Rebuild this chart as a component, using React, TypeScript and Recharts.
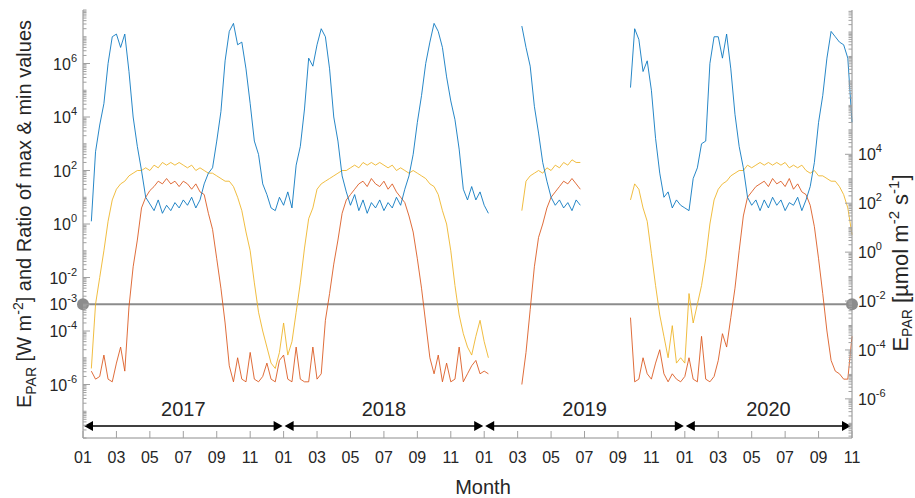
import { LineChart, Line, XAxis, YAxis, ReferenceLine, ReferenceDot } from 'recharts'

// samples every quarter month, starting 1 Jan 2017 (t = months since then)
const STEP = 0.25

// log10 values, one row of numbers per year
const ratioLog = [
  // 2017
  null, null, 0.1, 2.7, 3.7, 4.5, 6.0, 7.0, 7.1, 6.6, 7.1, 5.7, 4.0, 2.9, 2.0, 1.0, 0.75, 0.5, 0.9, 0.4, 0.7, 0.5, 0.8, 0.6,
  0.9, 0.7, 1.0, 0.6, 0.9, 1.5, 1.9, 2.1, 3.1, 4.2, 6.1, 7.2, 7.5, 6.7, 6.8, 5.8, 4.5, 3.1, 2.6, 1.5, 1.1, 0.6, 0.5, 1.0,
  // 2018
  0.7, 1.2, 0.6, 2.2, 2.9, 4.3, 6.2, 5.9, 6.7, 7.3, 7.0, 5.8, 4.0, 3.1, 1.8, 1.2, 0.7, 1.1, 0.5, 0.9, 0.4, 0.8, 0.6, 0.9,
  0.5, 0.8, 0.6, 1.0, 0.7, 1.3, 1.8, 2.6, 3.8, 4.8, 6.0, 6.8, 7.5, 7.2, 6.6, 5.5, 4.6, 3.9, 2.8, 1.3, 0.9, 1.4, 0.9, 1.2,
  // 2019
  0.7, 0.4, null, null, null, null, null, null, null, 7.4, 6.6, 5.9, 4.4, 3.4, 2.3, 1.6, 1.0, 0.7, 0.9, 0.6, 0.8, 0.5, 0.9, 0.7,
  null, null, null, null, null, null, null, null, null, null, null, 5.1, 7.3, 6.9, 5.7, 6.1, 5.0, 3.2, 1.9, 1.0, 1.2, 0.6, 0.9, 0.7,
  // 2020
  0.6, 0.5, 1.7, 2.1, 3.0, 3.1, 6.0, 7.0, 7.0, 6.2, 7.1, 5.8, 4.1, 2.9, 2.1, 1.0, 0.7, 0.9, 0.5, 0.9, 0.6, 1.0, 0.7, 0.9,
  0.5, 0.8, 0.7, 1.0, 0.5, 0.9, 1.4, 2.3, 3.8, 4.8, 6.2, 7.2, 7.0, 6.8, 6.7, 6.2, 3.8,
]

const maxLog = [
  // 2017
  null, null, -5.4, -3.0, -2.0, -1.0, 0.1, 0.9, 1.3, 1.5, 1.6, 1.8, 1.9, 2.0, 2.0, 2.1, 2.0, 2.2, 2.1, 2.3, 2.2, 2.3, 2.2, 2.3,
  2.2, 2.1, 2.2, 2.0, 2.1, 2.0, 1.9, 1.9, 1.8, 1.7, 1.6, 1.6, 1.4, 1.0, 0.5, -0.3, -1.0, -2.2, -3.3, -4.0, -4.6, -5.2, -5.4, -4.8,
  // 2018
  -3.7, -4.9, -4.4, -3.3, -2.2, -0.9, 0.2, 0.6, 1.3, 1.5, 1.6, 1.7, 1.8, 1.9, 2.0, 2.0, 2.1, 2.2, 2.1, 2.3, 2.2, 2.3, 2.2, 2.3,
  2.2, 2.1, 2.2, 2.0, 2.1, 2.0, 1.9, 2.0, 1.9, 1.8, 1.7, 1.5, 1.4, 1.1, 0.5, 0.0, -1.0, -2.3, -3.4, -4.1, -4.6, -4.9, -4.2, -3.6,
  // 2019
  -4.4, -5.0, null, null, null, null, null, null, null, 0.5, 1.6, 1.8, 1.9, 2.0, 1.9, 2.1, 2.0, 2.2, 2.1, 2.3, 2.2, 2.4, 2.3, 2.3,
  null, null, null, null, null, null, null, null, null, null, null, 0.9, 1.5, 1.3, 0.6, 0.1, -1.1, -2.3, -3.4, -4.2, -5.0, -3.8, -5.2, -5.0,
  // 2020
  -5.2, -2.6, -3.7, -3.0, -2.3, -1.3, 0.0, 0.9, 1.3, 1.5, 1.6, 1.8, 1.9, 2.0, 2.0, 2.2, 2.1, 2.2, 2.3, 2.2, 2.3, 2.2, 2.3, 2.2,
  2.3, 2.1, 2.2, 2.1, 2.2, 2.0, 1.9, 2.0, 1.8, 1.8, 1.7, 1.6, 1.6, 1.4, 1.1, 0.6, -0.4,
]

const minLog = [
  // 2017
  null, null, -5.5, -5.8, -5.7, -4.9, -5.8, -5.9, -5.2, -4.6, -5.5, -3.1, -1.6, -0.6, 0.6, 1.0, 1.25, 1.4, 1.6, 1.5, 1.7, 1.5, 1.6, 1.4,
  1.6, 1.5, 1.3, 1.5, 1.2, 1.1, 0.4, -0.2, -1.3, -2.4, -3.7, -5.3, -5.9, -5.0, -5.8, -5.9, -4.8, -5.8, -5.9, -5.7, -5.2, -5.8, -5.9, -5.1,
  // 2018
  -4.9, -5.8, -5.9, -4.6, -5.8, -5.9, -5.9, -4.6, -5.8, -5.6, -3.6, -2.6, -1.5, -0.6, 0.4, 0.9, 1.1, 1.3, 1.5, 1.6, 1.4, 1.7, 1.5, 1.4,
  1.6, 1.3, 1.5, 1.2, 1.0, 0.8, 0.3, -0.3, -1.3, -2.4, -3.7, -5.0, -5.6, -4.9, -5.9, -5.2, -5.9, -5.8, -4.6, -5.9, -5.6, -5.3, -5.1, -5.6,
  // 2019
  -5.5, -5.6, null, null, null, null, null, null, null, -6.0, -4.8, -3.2, -1.6, -0.5, 0.0, 0.6, 1.0, 1.2, 1.4, 1.6, 1.5, 1.7, 1.5, 1.3,
  null, null, null, null, null, null, null, null, null, null, null, -3.5, -5.9, -5.8, -5.0, -5.6, -5.8, -5.2, -4.7, -5.6, -5.9, -5.6, -5.8, -5.9,
  // 2020
  -5.7, -5.0, -5.8, -5.9, -4.2, -5.8, -5.9, -5.7, -5.1, -4.1, -4.6, -3.5, -2.4, -1.0, 0.3, 1.0, 1.2, 1.4, 1.5, 1.6, 1.4, 1.7, 1.5, 1.6,
  1.4, 1.7, 1.3, 1.5, 1.2, 1.1, 0.7, -0.1, -1.3, -2.6, -4.0, -5.1, -5.5, -5.6, -5.8, -5.8, -4.2,
]

const monthTicks = [0, 2, 4, 6, 8, 10, 12, 14, 16, 18, 20, 22, 24, 26, 28, 30, 32, 34, 36, 38, 40, 42, 44, 46]
const years = ['2017', '2018', '2019', '2020']
const yearEdges = [0, 12, 24, 36, 46]
const leftExps = [-6, -4, -3, -2, 0, 2, 4, 6]
const rightExps = [-6, -4, -2, 0, 2, 4]
const threshold = 1e-3
const arrowLevel = 10 ** -7.55

const FONT = '"Liberation Sans", Arial, Helvetica, sans-serif'
const INK = '#262626'
const BOX = '#8c8c8c'
const TICK = '#a0a0a0'

const toVal = (v: number | null) => (v == null ? null : 10 ** v)
const rows = ratioLog.map((r, i) => ({
  t: i * STEP,
  ratio: toVal(r),
  max: toVal(maxLog[i]),
  min: toVal(minLog[i]),
}))

// log axis ticks: 1..9 x 10^n inside [lo, hi] (exponents)
function logTicks(lo: number, hi: number) {
  const out: number[] = []
  for (let n = Math.floor(lo); n <= Math.ceil(hi); n++) {
    for (let k = 1; k < 10; k++) {
      const l = Math.log10(k) + n
      if (l >= lo - 1e-9 && l <= hi + 1e-9) out.push(k * 10 ** n)
    }
  }
  return out
}
const LEFT_DOM: [number, number] = [-8, 8]
const RIGHT_DOM: [number, number] = [-7.6, 9.9]

function majorExp(value: number, majors: number[]) {
  const e = Math.log10(value)
  const r = Math.round(e)
  return Math.abs(e - r) < 1e-6 && majors.includes(r) ? r : null
}

function Pow({ x, y, e, anchor }: { x: number; y: number; e: number; anchor: 'start' | 'end' }) {
  return (
    <text x={x} y={y + 6} textAnchor={anchor} fontFamily={FONT} fontSize={16} fill={INK}>
      10<tspan dy={-8} fontSize={11}>{e}</tspan>
    </text>
  )
}

function LeftTick(props: any) {
  const { x, y, payload } = props
  const e = majorExp(payload.value, leftExps)
  return (
    <g>
      <line x1={x} x2={x + (e != null ? 7 : 3.5)} y1={y} y2={y} stroke={TICK} />
      {e != null && <Pow x={x - 6} y={y} e={e} anchor="end" />}
    </g>
  )
}

function RightTick(props: any) {
  const { x, y, payload } = props
  const e = majorExp(payload.value, rightExps)
  return (
    <g>
      <line x1={x} x2={x - (e != null ? 7 : 3.5)} y1={y} y2={y} stroke={TICK} />
      {e != null && <Pow x={x + 6} y={y} e={e} anchor="start" />}
    </g>
  )
}

function BottomTick(props: any) {
  const { x, y, payload } = props
  const m = String((payload.value % 12) + 1).padStart(2, '0')
  return (
    <g>
      <line x1={x} x2={x} y1={y} y2={y - 7} stroke={TICK} />
      <text x={x} y={y + 25} textAnchor="middle" fontFamily={FONT} fontSize={16} fill={INK}>
        {m}
      </text>
    </g>
  )
}

function TopTick(props: any) {
  const { x, y } = props
  return <line x1={x} x2={x} y1={y} y2={y + 7} stroke={TICK} />
}

function YearArrow(props: any, label: string) {
  const { x1, x2, y1 } = props
  const y = y1
  return (
    <g>
      <line x1={x1 + 5} x2={x2 - 5} y1={y} y2={y} stroke="#000" strokeWidth={1.6} />
      <polygon points={`${x1 + 1},${y} ${x1 + 10},${y - 5} ${x1 + 10},${y + 5}`} fill="#000" />
      <polygon points={`${x2 - 1},${y} ${x2 - 10},${y - 5} ${x2 - 10},${y + 5}`} fill="#000" />
      <text x={(x1 + x2) / 2} y={y - 10} textAnchor="middle" fontFamily={FONT} fontSize={20} fill={INK}>
        {label}
      </text>
    </g>
  )
}

function LeftTitle(p: any) {
  const vb = p.viewBox
  const cy = vb.y + 204
  return (
    <text transform={`translate(${vb.x + 31},${cy}) rotate(-90)`} textAnchor="middle" fontFamily={FONT} fontSize={20} fill={INK}>
      E<tspan dy={5} fontSize={14}>PAR</tspan>
      <tspan dy={-5}> [W m</tspan>
      <tspan dy={-8} fontSize={14}>-2</tspan>
      <tspan dy={8}>] and Ratio of max &amp; min values</tspan>
    </text>
  )
}

function RightTitle(p: any) {
  const vb = p.viewBox
  const cy = vb.y + 253
  return (
    <text transform={`translate(${vb.x + 56},${cy}) rotate(-90)`} textAnchor="middle" fontFamily={FONT} fontSize={22} fill={INK}>
      E<tspan dy={4} fontSize={14}>PAR</tspan>
      <tspan dy={-4}> [µmol m</tspan>
      <tspan dy={-9} fontSize={15}>-2</tspan>
      <tspan dy={9}> s</tspan>
      <tspan dy={-9} fontSize={15}>-1</tspan>
      <tspan dy={9}>]</tspan>
    </text>
  )
}

function MonthTitle(p: any) {
  const vb = p.viewBox
  return (
    <text x={vb.x + 400} y={vb.y + 56} textAnchor="middle" fontFamily={FONT} fontSize={20} fill={INK}>
      Month
    </text>
  )
}

export default function App() {
  return (
    <div style={{ position: 'absolute', left: 0, top: 0, background: '#fff' }}>
      <LineChart width={915} height={498} data={rows} margin={{ top: 10, right: 0, bottom: 0, left: 0 }}>
        <XAxis
          dataKey="t"
          type="number"
          domain={[0, 46]}
          ticks={monthTicks}
          interval={0}
          height={60}
          tickSize={0}
          tickMargin={0}
          tick={BottomTick}
          axisLine={{ stroke: BOX }}
          label={{ content: MonthTitle }}
        />
        <XAxis
          xAxisId="top"
          orientation="top"
          dataKey="t"
          type="number"
          domain={[0, 46]}
          ticks={monthTicks}
          interval={0}
          height={0}
          tickSize={0}
          tickMargin={0}
          tick={TopTick}
          axisLine={{ stroke: BOX }}
        />
        <YAxis
          yAxisId="left"
          type="number"
          scale="log"
          domain={[10 ** LEFT_DOM[0], 10 ** LEFT_DOM[1]]}
          allowDataOverflow
          ticks={logTicks(LEFT_DOM[0], LEFT_DOM[1])}
          interval={0}
          width={83}
          tickSize={0}
          tickMargin={0}
          tick={LeftTick}
          axisLine={{ stroke: BOX }}
          label={{ content: LeftTitle }}
        />
        <YAxis
          yAxisId="right"
          orientation="right"
          type="number"
          scale="log"
          domain={[10 ** RIGHT_DOM[0], 10 ** RIGHT_DOM[1]]}
          allowDataOverflow
          ticks={logTicks(RIGHT_DOM[0], RIGHT_DOM[1])}
          interval={0}
          width={63}
          tickSize={0}
          tickMargin={0}
          tick={RightTick}
          axisLine={{ stroke: BOX }}
          label={{ content: RightTitle }}
        />
        <ReferenceLine yAxisId="left" y={threshold} stroke={BOX} strokeWidth={2} />
        <ReferenceDot yAxisId="left" x={0} y={threshold} r={6} fill={BOX} stroke="none" />
        <ReferenceDot yAxisId="left" x={46} y={threshold} r={6} fill={BOX} stroke="none" />
        <Line yAxisId="left" dataKey="max" stroke="#EDB120" strokeOpacity={0.85} strokeWidth={1} dot={false} isAnimationActive={false} />
        <Line yAxisId="left" dataKey="min" stroke="#D95319" strokeOpacity={0.85} strokeWidth={1} dot={false} isAnimationActive={false} />
        <Line yAxisId="left" dataKey="ratio" stroke="#0072BD" strokeOpacity={0.85} strokeWidth={1} dot={false} isAnimationActive={false} />
        {years.map((label, i) => (
          <ReferenceLine
            key={label}
            yAxisId="left"
            ifOverflow="visible"
            segment={[
              { x: yearEdges[i], y: arrowLevel },
              { x: yearEdges[i + 1], y: arrowLevel },
            ]}
            shape={(p: any) => YearArrow(p, label)}
          />
        ))}
      </LineChart>
    </div>
  )
}
